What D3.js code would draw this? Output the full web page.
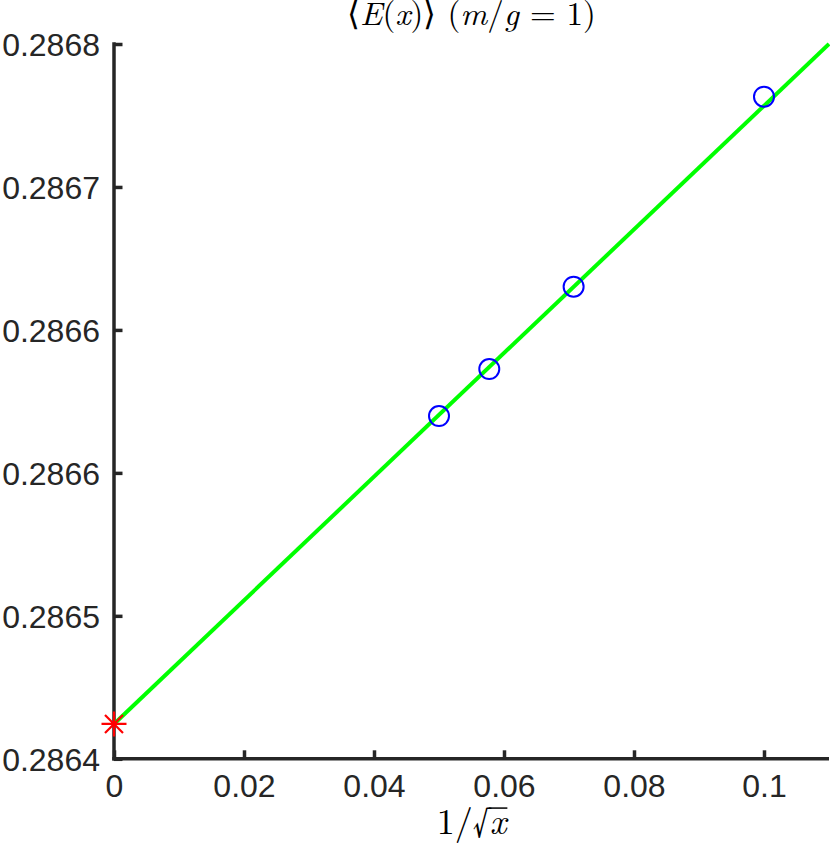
<!DOCTYPE html>
<html>
<head>
<meta charset="utf-8">
<script src="https://cdn.jsdelivr.net/npm/d3@7"></script>
<style>
  html, body { margin: 0; padding: 0; background: #fff; }
  svg { display: block; }
</style>
</head>
<body>
<script>
// ---- data ----
const pointsX = [0.05, 0.057735, 0.070711, 0.1];
const pointsY = [0.2865918, 0.2866181, 0.2866642, 0.2867705];
const extrapX = [0];
const extrapY = [0.2864195];
const fitX = [0, 0.11];
const fitY = [0.2864195, 0.2868];
const xTicks = [0, 0.02, 0.04, 0.06, 0.08, 0.1];
const xTickLabels = ["0", "0.02", "0.04", "0.06", "0.08", "0.1"];
const yTicks = [0.2864, 0.28648, 0.28656, 0.28664, 0.28672, 0.2868];
const yTickLabels = ["0.2864", "0.2865", "0.2866", "0.2866", "0.2867", "0.2868"];
const xDomain = [0, 0.11];
const yDomain = [0.2864, 0.2868];

(function () {
const W = 830, H = 845;
const pLeft = 114, pRight = 829, pTop = 44, pBottom = 758.8;
const axisColor = "#262626";

const svg = d3.select("body").append("svg").attr("width", W).attr("height", H);

const x = d3.scaleLinear().domain(xDomain).range([pLeft, pRight]);
const y = d3.scaleLinear().domain(yDomain).range([pBottom, pTop]);

// axes (ticks inside)
const xAxis = d3.axisBottom(x).tickValues(xTicks)
  .tickFormat((d, i) => xTickLabels[i]).tickSizeInner(-8.5).tickSizeOuter(0).tickPadding(15.5);
const yAxis = d3.axisLeft(y).tickValues(yTicks)
  .tickFormat((d, i) => yTickLabels[i]).tickSizeInner(-8.5).tickSizeOuter(0).tickPadding(14);

const gx = svg.append("g").attr("transform", `translate(0,${pBottom})`).call(xAxis);
const gy = svg.append("g").attr("transform", `translate(${pLeft},0)`).call(yAxis);

[gx, gy].forEach(g => {
  g.select(".domain").attr("stroke", axisColor).attr("stroke-width", 3.5);
  g.selectAll(".tick line").attr("stroke", axisColor).attr("stroke-width", 3.5);
  g.selectAll(".tick text").attr("fill", axisColor)
    .style("font-family", "'Liberation Sans', Arial, Helvetica, sans-serif")
    .style("font-size", "32px");
});
gx.select(".domain").attr("d", `M${pLeft - 1.75},0H${pRight}`);
gy.select(".domain").attr("d", `M0,${pBottom + 1.75}V${pTop - 1.75}`);
gx.selectAll(".tick text").attr("dy", "0.71em");
gy.selectAll(".tick text").attr("dy", "0.36em");

// fit line
const line = d3.line().x(d => x(d[0])).y(d => y(d[1]));
svg.append("path")
  .datum(d3.zip(fitX, fitY))
  .attr("d", line)
  .attr("fill", "none")
  .attr("stroke", "#00ff00")
  .attr("stroke-width", 4);

// data circles
svg.append("g").selectAll("circle")
  .data(d3.zip(pointsX, pointsY))
  .join("circle")
  .attr("cx", d => x(d[0]))
  .attr("cy", d => y(d[1]))
  .attr("r", 10)
  .attr("fill", "none")
  .attr("stroke", "#0000ff")
  .attr("stroke-width", 2);

// extrapolated star
const star = svg.append("g").selectAll("g")
  .data(d3.zip(extrapX, extrapY))
  .join("g")
  .attr("transform", d => `translate(${x(d[0])},${y(d[1])})`);
const s = 12.5, dg = 9;
star.append("path")
  .attr("d", `M${-s},0H${s}M0,${-s}V${s}M${-dg},${-dg}L${dg},${dg}M${-dg},${dg}L${dg},${-dg}`)
  .attr("stroke", "#ff0000")
  .attr("stroke-width", 2.2)
  .attr("fill", "none");

// title
const serif = "'Latin Modern Roman', 'CMU Serif', 'Liberation Serif', 'Times New Roman', serif";
const title = svg.append("text")
  .attr("x", (pLeft + pRight) / 2)
  .attr("y", 25)
  .attr("text-anchor", "middle")
  .style("font-family", serif)
  .style("font-size", "33px")
  .attr("fill", "#000");
title.append("tspan").text("\u27E8");
title.append("tspan").style("font-style", "italic").text("E");
title.append("tspan").text("(");
title.append("tspan").style("font-style", "italic").text("x");
title.append("tspan").text(")\u27E9 (");
title.append("tspan").style("font-style", "italic").text("m");
title.append("tspan").text("/");
title.append("tspan").style("font-style", "italic").text("g");
title.append("tspan").text(" = 1)");

// x label 1/sqrt(x)
const xlFs = 36, xlBase = 834;
const xl = svg.append("text")
  .attr("x", (pLeft + pRight) / 2)
  .attr("y", xlBase)
  .attr("text-anchor", "middle")
  .style("font-family", serif)
  .style("font-size", xlFs + "px")
  .attr("fill", "#000");
xl.append("tspan").text("1/\u221A");
xl.append("tspan").style("font-style", "italic").text("x");
try {
  const node = xl.node();
  const rs = node.getExtentOfChar(2);
  const ex = node.getExtentOfChar(3);
  const oy = xlBase - 0.72 * xlFs;
  svg.append("line")
    .attr("x1", rs.x + rs.width - 1)
    .attr("x2", ex.x + ex.width + 1)
    .attr("y1", oy)
    .attr("y2", oy)
    .attr("stroke", "#000")
    .attr("stroke-width", 1.5);
} catch (e) {}
})();
</script>
</body>
</html>
